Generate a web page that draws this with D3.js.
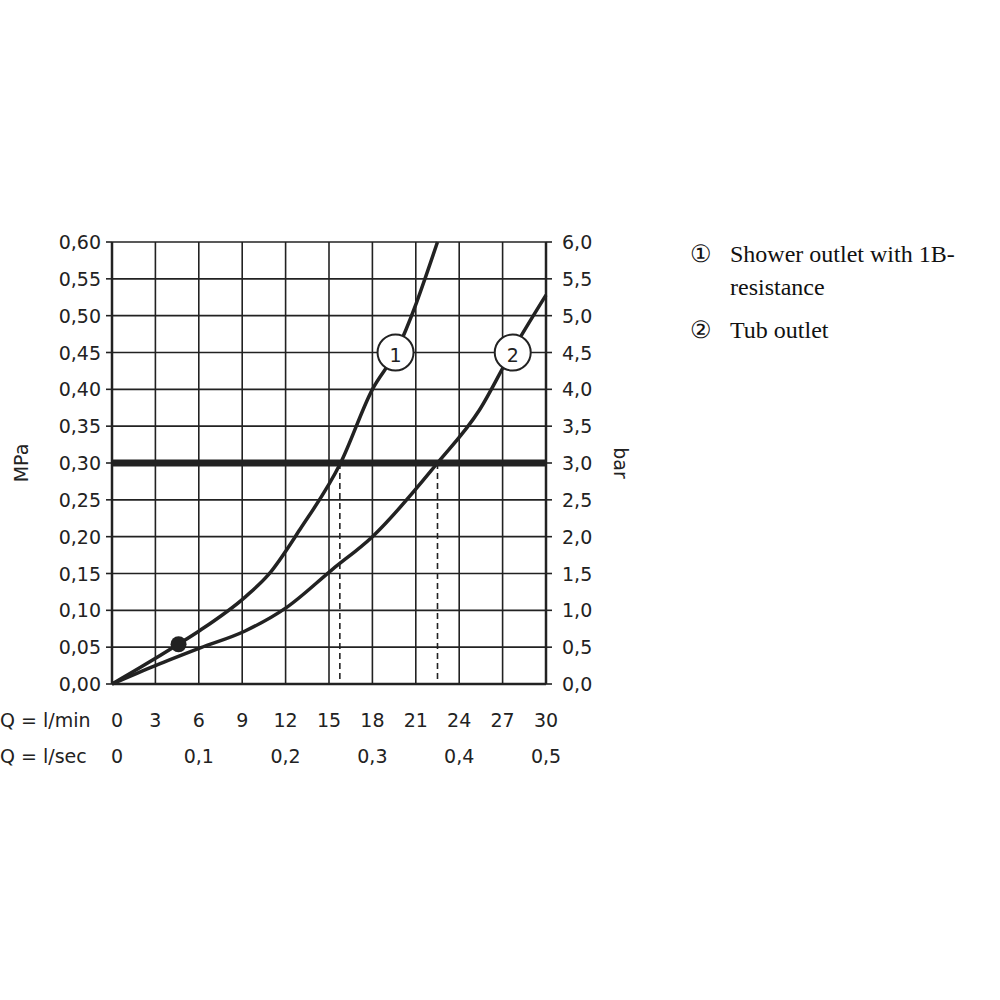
<!DOCTYPE html><html><head><meta charset="utf-8"><script src="https://cdn.jsdelivr.net/npm/d3@7"></script>
<style>body{margin:0;background:#fff}</style></head><body><svg id="c" width="1000" height="1000"></svg>
<script>
const qMinTicks=[0,3,6,9,12,15,18,21,24,27,30];
const qSecTicks=[0,0.1,0.2,0.3,0.4,0.5];
const mpaTicks=[0,0.05,0.1,0.15,0.2,0.25,0.3,0.35,0.4,0.45,0.5,0.55,0.6];
const curve1Q=[0,2,4.5,6.1,9.2,10.8,13,15.8,18,19.6,22.5];
const curve1P=[0,0.023,0.053,0.073,0.118,0.148,0.21,0.30,0.40,0.45,0.60];
const curve2Q=[0,3,6.1,9.2,12,15.2,18,22.5,25.4,27.6,30];
const curve2P=[0,0.025,0.049,0.072,0.103,0.155,0.2,0.30,0.372,0.45,0.528];
const dashQ=[15.75,22.5];
const refP=0.30;
const dot={q:4.6,p:0.054};
const labels=[{t:"1",q:19.6,p:0.45},{t:"2",q:27.7,p:0.45}];
const legend=[["①","Shower outlet with 1B-","resistance"],["②","Tub outlet"]];

const svg=d3.select("#c");
const x=d3.scaleLinear().domain([0,30]).range([112,546]);
const y=d3.scaleLinear().domain([0,0.6]).range([684,242]);
const col="#222";
const g=svg.append("g");
const fmt=(v,d)=>v.toFixed(d).replace(".",",");
qMinTicks.forEach(q=>g.append("line").attr("x1",x(q)).attr("x2",x(q)).attr("y1",y(0)).attr("y2",y(0.6)).attr("stroke",col).attr("stroke-width",1.6));
mpaTicks.forEach(p=>g.append("line").attr("x1",x(0)).attr("x2",x(30)).attr("y1",y(p)).attr("y2",y(p)).attr("stroke",col).attr("stroke-width",1.6));
[0,30].forEach(q=>g.append("line").attr("x1",x(q)).attr("x2",x(q)).attr("y1",y(0)).attr("y2",y(0.6)).attr("stroke",col).attr("stroke-width",2.5));
g.append("line").attr("x1",x(0)).attr("x2",x(30)).attr("y1",y(0)).attr("y2",y(0)).attr("stroke",col).attr("stroke-width",2.5);
// ticks
mpaTicks.forEach(p=>{
 g.append("line").attr("x1",x(0)-6).attr("x2",x(0)).attr("y1",y(p)).attr("y2",y(p)).attr("stroke",col).attr("stroke-width",1.6);
 g.append("line").attr("x1",x(30)).attr("x2",x(30)+6).attr("y1",y(p)).attr("y2",y(p)).attr("stroke",col).attr("stroke-width",1.6);
 g.append("text").attr("x",x(0)-11).attr("y",y(p)+7).attr("text-anchor","end").text(fmt(p,2));
 g.append("text").attr("x",x(30)+16).attr("y",y(p)+7).attr("text-anchor","start").text(fmt(p*10,1));
});
g.selectAll("text").attr("font-family","DejaVu Sans").attr("font-size",19).attr("fill",col);
const tf=s=>s.attr("font-family","DejaVu Sans").attr("font-size",19).attr("fill",col);
qMinTicks.forEach(q=>tf(g.append("text").attr("x",x(q)+(q==0?5:0)).attr("y",727).attr("text-anchor","middle").text(q)));
qSecTicks.forEach(s=>tf(g.append("text").attr("x",x(s*60)+(s==0?5:0)).attr("y",763).attr("text-anchor","middle").text(s==0?"0":fmt(s,1))));
tf(g.append("text").attr("x",0).attr("y",727).text("Q = l/min"));
tf(g.append("text").attr("x",0).attr("y",763).text("Q = l/sec"));
tf(g.append("text").attr("transform",`translate(28,${y(0.3)}) rotate(-90)`).attr("text-anchor","middle").text("MPa"));
tf(g.append("text").attr("transform",`translate(614,${y(0.3)}) rotate(90)`).attr("text-anchor","middle").text("bar"));
// ref line
g.append("line").attr("x1",x(0)).attr("x2",x(30)).attr("y1",y(refP)).attr("y2",y(refP)).attr("stroke",col).attr("stroke-width",7);
dashQ.forEach(q=>g.append("line").attr("x1",x(q)).attr("x2",x(q)).attr("y1",y(refP)).attr("y2",y(0)).attr("stroke",col).attr("stroke-width",1.6).attr("stroke-dasharray","6,4"));
const line=d3.line().x(d=>x(d[0])).y(d=>y(d[1])).curve(d3.curveMonotoneX);
[[curve1Q,curve1P],[curve2Q,curve2P]].forEach(([qs,ps])=>g.append("path").attr("d",line(qs.map((q,i)=>[q,ps[i]]))).attr("fill","none").attr("stroke",col).attr("stroke-width",3.5));
g.append("circle").attr("cx",x(dot.q)).attr("cy",y(dot.p)).attr("r",8).attr("fill",col);
labels.forEach(l=>{g.append("circle").attr("cx",x(l.q)).attr("cy",y(l.p)).attr("r",18).attr("fill","#fff").attr("stroke",col).attr("stroke-width",2);
 tf(g.append("text").attr("x",x(l.q)).attr("y",y(l.p)+9).attr("text-anchor","middle").attr("font-size",25).text(l.t));});
// legend
const ls=s=>s.attr("font-family","Liberation Serif").attr("font-size",24).attr("fill","#111");
ls(svg.append("text").attr("x",690).attr("y",262).text(legend[0][0]));
ls(svg.append("text").attr("x",730).attr("y",262).text(legend[0][1]));
ls(svg.append("text").attr("x",730).attr("y",295).text(legend[0][2]));
ls(svg.append("text").attr("x",690).attr("y",338).text(legend[1][0]));
ls(svg.append("text").attr("x",730).attr("y",338).text(legend[1][1]));
</script></body></html>
